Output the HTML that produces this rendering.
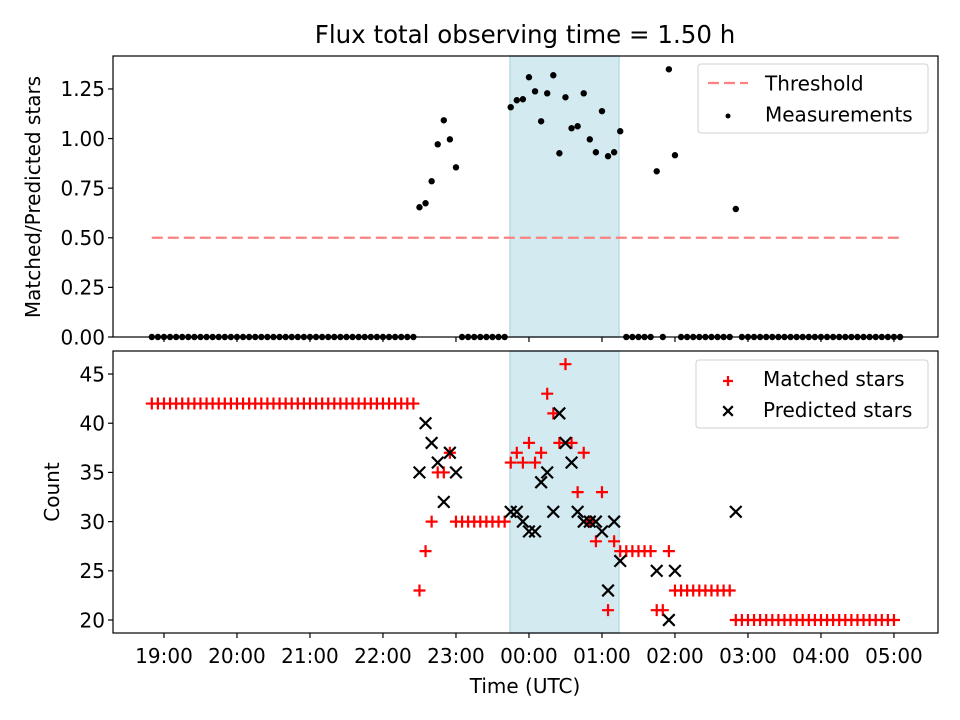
<!DOCTYPE html>
<html><head><meta charset="utf-8"><style>
html,body{margin:0;padding:0;background:#fff;}
svg{display:block;font-family:"DejaVu Sans","Liberation Sans",sans-serif;}
</style></head><body>
<svg id="chart" width="960" height="720" viewBox="0 0 960 720" xmlns="http://www.w3.org/2000/svg">
<text x="525" y="43" font-size="24.5" text-anchor="middle">Flux total observing time = 1.50 h</text>
<text transform="translate(40,197) rotate(-90)" font-size="20" text-anchor="middle">Matched/Predicted stars</text>
<text transform="translate(59,492) rotate(-90)" font-size="20" text-anchor="middle">Count</text>
<text x="525" y="693" font-size="20" text-anchor="middle">Time (UTC)</text>
<g id="top"></g><g id="bot"></g>
</svg>
<script>
// times: minutes after 18:00 (UTC)
const times = [50,55,60,65,70,75,80,85,90,95,100,105,110,115,120,125,130,135,140,145,150,155,160,165,170,175,180,185,190,195,200,205,210,215,220,225,230,235,240,245,250,255,260,265,
270,275,280,285,290,295,300,305,310,315,320,325,330,335,340,345,350,355,360,365,370,375,380,385,390,395,400,405,410,415,420,425,430,435,
440,445,450,455,460,465,470,475,480,485,490,495,500,505,510,515,520,525,530,535,540,545,550,555,560,565,570,575,580,585,590,595,600,605,610,615,620,625,630,635,640,645,650,655,660,665];
const ratio = [0,0,0,0,0,0,0,0,0,0,0,0,0,0,0,0,0,0,0,0,0,0,0,0,0,0,0,0,0,0,0,0,0,0,0,0,0,0,0,0,0,0,0,0,
0.654,0.674,0.785,0.971,1.092,0.996,0.855,0,0,0,0,0,0,0,0,
1.158,1.193,1.198,1.309,1.238,1.087,1.228,1.319,0.926,1.208,1.052,1.062,1.228,0.996,0.931,1.138,0.911,0.931,1.037,
0,0,0,0,0,0.835,0,1.349,0.916,0,0,0,0,0,0,0,0,0,0.645,0,0,0,0,0,0,0,0,0,0,0,0,0,0,0,0,0,0,0,0,0,0,0,0,0,0,0];
const matched = [42,42,42,42,42,42,42,42,42,42,42,42,42,42,42,42,42,42,42,42,42,42,42,42,42,42,42,42,42,42,42,42,42,42,42,42,42,42,42,42,42,42,42,42,
23,27,30,35,35,37,30,30,30,30,30,30,30,30,30,
36,37,36,38,36,37,43,41,38,46,38,33,37,30,28,33,21,28,27,
27,27,27,27,27,21,21,27,23,23,23,23,23,23,23,23,23,23,20,20,20,20,20,20,20,20,20,20,20,20,20,20,20,20,20,20,20,20,20,20,20,20,20,20,20];
const predicted = [null,null,null,null,null,null,null,null,null,null,null,null,null,null,null,null,null,null,null,null,null,null,null,null,null,null,null,null,null,null,null,null,null,null,null,null,null,null,null,null,null,null,null,null,
35,40,38,36,32,37,35,null,null,null,null,null,null,null,null,
31,31,30,29,29,34,35,31,41,38,36,31,30,30,30,29,23,30,26,
null,null,null,null,null,25,null,20,25,null,null,null,null,null,null,null,null,null,31,null,null,null,null,null,null,null,null,null,null,null,null,null,null,null,null,null,null,null,null,null,null,null,null,null,null,null];
const xTicks = [60,120,180,240,300,360,420,480,540,600,660];
const xTickLabels = ["19:00","20:00","21:00","22:00","23:00","00:00","01:00","02:00","03:00","04:00","05:00"];
const topTicks = [0,0.25,0.5,0.75,1.0,1.25];
const topTickLabels = ["0.00","0.25","0.50","0.75","1.00","1.25"];
const botTicks = [20,25,30,35,40,45];
const threshold = 0.5;
const shade = [344.4, 434.0];

const NS="http://www.w3.org/2000/svg";
function mk(tag, attrs, parent){const e=document.createElementNS(NS,tag);for(const k in attrs)e.setAttribute(k,attrs[k]);parent.appendChild(e);return e;}
const L=113,R=938;
const xMin=18.1,xMax=696.2;
const X=m=>L+(m-xMin)/(xMax-xMin)*(R-L);
const topT=56,topB=337,topMax=1.416;
const Yt=v=>topB-v/topMax*(topB-topT);
const botT=351,botB=633,bMin=18.68,bMax=47.34;
const Yb=v=>botB-(v-bMin)/(bMax-bMin)*(botB-botT);

function axes(g,T,B,yticks,ylabels,yf,showX){
  const sh=mk('rect',{x:X(shade[0]),y:T,width:X(shade[1])-X(shade[0]),height:B-T,fill:'#d4eaf1',stroke:'#b9dbe6','stroke-width':1.5},g);
  
  
  yticks.forEach((v,i)=>{
    const y=yf(v);
    mk('line',{x1:L-5,x2:L,y1:y,y2:y,stroke:'#000','stroke-width':1.2},g);
    const t=mk('text',{x:L-8,y:y+7.3,'font-size':20,'text-anchor':'end'},g);
    t.textContent=ylabels[i];
    
    
  });
  xTicks.forEach((m,i)=>{
    const x=X(m);
    mk('line',{x1:x,x2:x,y1:B,y2:B+5,stroke:'#000','stroke-width':1.2},g);
    if(showX){const t=mk('text',{x:x,y:B+30,'font-size':20,'text-anchor':'middle'},g);
      t.textContent=xTickLabels[i];
      
      }
  });
}
function frame(g,T,B){const f=mk('rect',{x:L,y:T,width:R-L,height:B-T,fill:'none',stroke:'#000','stroke-width':1.2},g);
  
  }

const gt=document.getElementById('top');
axes(gt,topT,topB,topTicks,topTickLabels,Yt,false);
const th=mk('line',{x1:X(times[0]),x2:X(times[times.length-1]),y1:Yt(threshold),y2:Yt(threshold),stroke:'#ff8080','stroke-width':2.2,'stroke-dasharray':'11,5'},gt);


times.forEach((m,i)=>{
  const c=mk('circle',{cx:X(m),cy:Yt(ratio[i]),r:3.2,fill:'#000'},gt);
  
  
});
frame(gt,topT,topB);
const lg=mk('g',{},gt);


mk('rect',{x:698,y:64,width:230,height:69,rx:3,fill:'#fff','fill-opacity':0.8,stroke:'#d0d0d0'},lg);
mk('line',{x1:708,x2:748,y1:83,y2:83,stroke:'#ff8080','stroke-width':2.2,'stroke-dasharray':'11,5'},lg);
let t=mk('text',{x:765,y:90.5,'font-size':20},lg);t.textContent='Threshold';


mk('circle',{cx:728,cy:116,r:2.5,fill:'#000'},lg);
t=mk('text',{x:765,y:121.5,'font-size':20},lg);t.textContent='Measurements';



const gb=document.getElementById('bot');
axes(gb,botT,botB,botTicks,botTicks.map(String),Yb,true);
function plus(g,x,y,s){return mk('path',{d:`M${x-s},${y}H${x+s}M${x},${y-s}V${y+s}`,stroke:'#f00','stroke-width':2.2,fill:'none'},g);}
function cross(g,x,y,s){return mk('path',{d:`M${x-s},${y-s}L${x+s},${y+s}M${x-s},${y+s}L${x+s},${y-s}`,stroke:'#000','stroke-width':2.2,fill:'none'},g);}
times.forEach((m,i)=>{
  const p=plus(gb,X(m),Yb(matched[i]),6);
  
  
});
times.forEach((m,i)=>{
  if(predicted[i]===null)return;
  const c=cross(gb,X(m),Yb(predicted[i]),5.8);
  
  
});
frame(gb,botT,botB);
const lb=mk('g',{},gb);


mk('rect',{x:696,y:360,width:232,height:68,rx:3,fill:'#fff','fill-opacity':0.8,stroke:'#d0d0d0'},lb);
plus(lb,728,381,5);
t=mk('text',{x:763,y:386,'font-size':20},lb);t.textContent='Matched stars';


cross(lb,728,411,4.8);
t=mk('text',{x:763,y:417,'font-size':20},lb);t.textContent='Predicted stars';


</script>
</body></html>
